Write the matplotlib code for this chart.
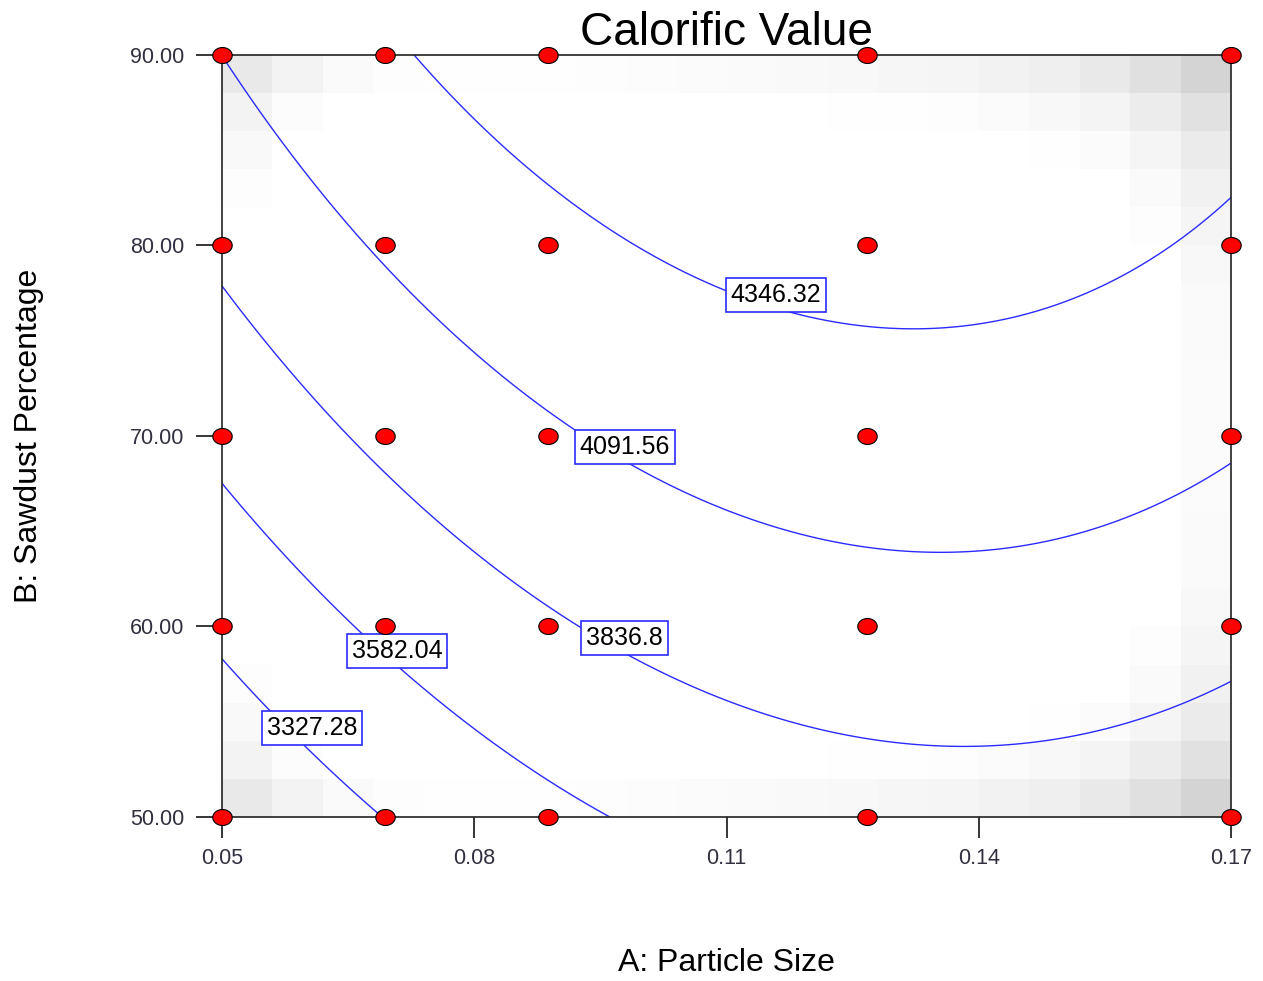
import numpy as np
import matplotlib.pyplot as plt

plt.rcParams['font.family'] = ['Liberation Sans', 'DejaVu Sans']

# design points (red dots)
a_levels = [0.05, 0.0694, 0.0888, 0.1267, 0.17]
b_levels = [50, 60, 70, 80, 90]

# contour levels shown in the chart
levels = [3327.28, 3582.04, 3836.8, 4091.56, 4346.32]

# points (A: particle size, B: sawdust %)
c1_a = [0.0504, 0.0557, 0.0593, 0.0649, 0.0684]
c1_b = [58.14, 55.6, 53.9, 51.57, 50.2]
c2_a = [0.0504, 0.0554, 0.0605, 0.0668, 0.0708, 0.0799, 0.091, 0.0965]
c2_b = [67.43, 64.7, 62.4, 59.55, 57.98, 54.6, 51.15, 50.0]
c3_a = [0.0504, 0.0557, 0.064, 0.0708, 0.0803, 0.0894, 0.0926, 0.0982,
        0.1108, 0.1227, 0.1327, 0.1405, 0.1465, 0.1584, 0.1643, 0.17]
c3_b = [77.75, 74.5, 70.3, 67.5, 64.0, 60.97, 59.97, 58.6,
        56.1, 54.46, 53.83, 53.74, 53.9, 54.99, 56.0, 57.14]
c4_a = [0.0504, 0.0557, 0.0632, 0.0691, 0.0803, 0.0917, 0.0982, 0.116,
        0.1274, 0.1346, 0.1461, 0.158, 0.17]
c4_b = [89.6, 86.2, 82.4, 78.87, 74.15, 70.2, 68.6, 65.17,
        64.1, 63.9, 64.3, 65.7, 68.48]
c5_a = [0.073, 0.0827, 0.1009, 0.1096, 0.116, 0.1274, 0.1322, 0.1425,
        0.1584, 0.1643, 0.17]
c5_b = [90.0, 85.45, 79.6, 77.66, 76.67, 75.65, 75.56, 76.2,
        78.87, 80.55, 82.44]

# where the boxed labels sit
label_pos = [(0.0607, 54.67), (0.0708, 58.71), (0.0979, 59.4),
             (0.0979, 69.42), (0.1159, 77.4)]


def quad_terms(a, b):
    a = (np.asarray(a) - 0.11) / 0.06
    b = (np.asarray(b) - 70.0) / 20.0
    return np.column_stack([np.ones_like(a), a, b, a * b, a * a, b * b])


# fit the quadratic response surface to the read contour points
pts_a = np.concatenate([c1_a, c2_a, c3_a, c4_a, c5_a])
pts_b = np.concatenate([c1_b, c2_b, c3_b, c4_b, c5_b])
pts_z = np.concatenate([np.full(len(c), lv) for c, lv in
                        zip([c1_a, c2_a, c3_a, c4_a, c5_a], levels)])
coef, *_ = np.linalg.lstsq(quad_terms(pts_a, pts_b), pts_z, rcond=None)

ga = np.linspace(0.05, 0.17, 300)
gb = np.linspace(50, 90, 300)
GA, GB = np.meshgrid(ga, gb)
Z = (quad_terms(GA.ravel(), GB.ravel()) @ coef).reshape(GA.shape)

# standard-error style shading from the design
DA, DB = np.meshgrid(a_levels, b_levels)
Xd = quad_terms(DA.ravel(), DB.ravel())
M = np.linalg.inv(Xd.T @ Xd)
ea = np.linspace(0.05, 0.17, 21)
eb = np.linspace(50, 90, 21)
CA, CB = np.meshgrid((ea[:-1] + ea[1:]) / 2, (eb[:-1] + eb[1:]) / 2)
Xc = quad_terms(CA.ravel(), CB.ravel())
se = np.sqrt(np.einsum('ij,jk,ik->i', Xc, M, Xc)).reshape(CA.shape)
s = (se - se.min()) / (se.max() - se.min())
shade = 1 - 0.17 * np.clip((s - 0.3) / 0.7, 0, 1) ** 1.3

fig = plt.figure(figsize=(12.63, 9.81), dpi=100)
ax = fig.add_axes([0.1758, 0.1672, 0.7989, 0.7768])

ax.pcolormesh(ea, eb, shade, cmap='gray', vmin=0, vmax=1, shading='flat')

cs = ax.contour(GA, GB, Z, levels=levels, colors='#2b2bff', linewidths=1.0)
texts = ax.clabel(cs, levels, manual=label_pos, inline=False, fmt='%g',
                  fontsize=18, colors='black')
for t, pos in zip(texts, label_pos):
    t.set_rotation(0)
    t.set_position(pos)
    t.set_bbox(dict(boxstyle='square,pad=0.2', facecolor='white',
                    edgecolor='#2b2bff', linewidth=1.2))

theta = np.linspace(0, 2 * np.pi, 40)
ell = np.column_stack([np.cos(theta), 0.82 * np.sin(theta)])
ax.plot(DA.ravel(), DB.ravel(), linestyle='none', marker=ell, markersize=14,
        markerfacecolor='red', markeredgecolor='black', markeredgewidth=0.8,
        clip_on=False, zorder=6)

ax.set_xlim(0.05, 0.17)
ax.set_ylim(50, 90)
ax.set_xticks([0.05, 0.08, 0.11, 0.14, 0.17])
ax.set_xticklabels(['0.05', '0.08', '0.11', '0.14', '0.17'])
ax.set_yticks(b_levels)
ax.set_yticklabels(['%.2f' % v for v in b_levels])
ax.tick_params(axis='x', direction='out', length=15, width=1.1, pad=7,
               labelsize=15.5, labelcolor='#303040')
ax.tick_params(axis='y', direction='out', length=19, width=1.1, pad=8,
               labelsize=15.5, labelcolor='#303040')
for sp in ax.spines.values():
    sp.set_linewidth(1.2)
    sp.set_color('#222222')

ax.set_title('Calorific Value', fontsize=33, pad=4)
ax.set_xlabel('A: Particle Size', fontsize=23)
ax.set_ylabel('B: Sawdust Percentage', fontsize=23)
ax.xaxis.set_label_coords(0.5, -0.172)
ax.yaxis.set_label_coords(-0.176, 0.5)

fig.savefig('out.png', dpi=100)
